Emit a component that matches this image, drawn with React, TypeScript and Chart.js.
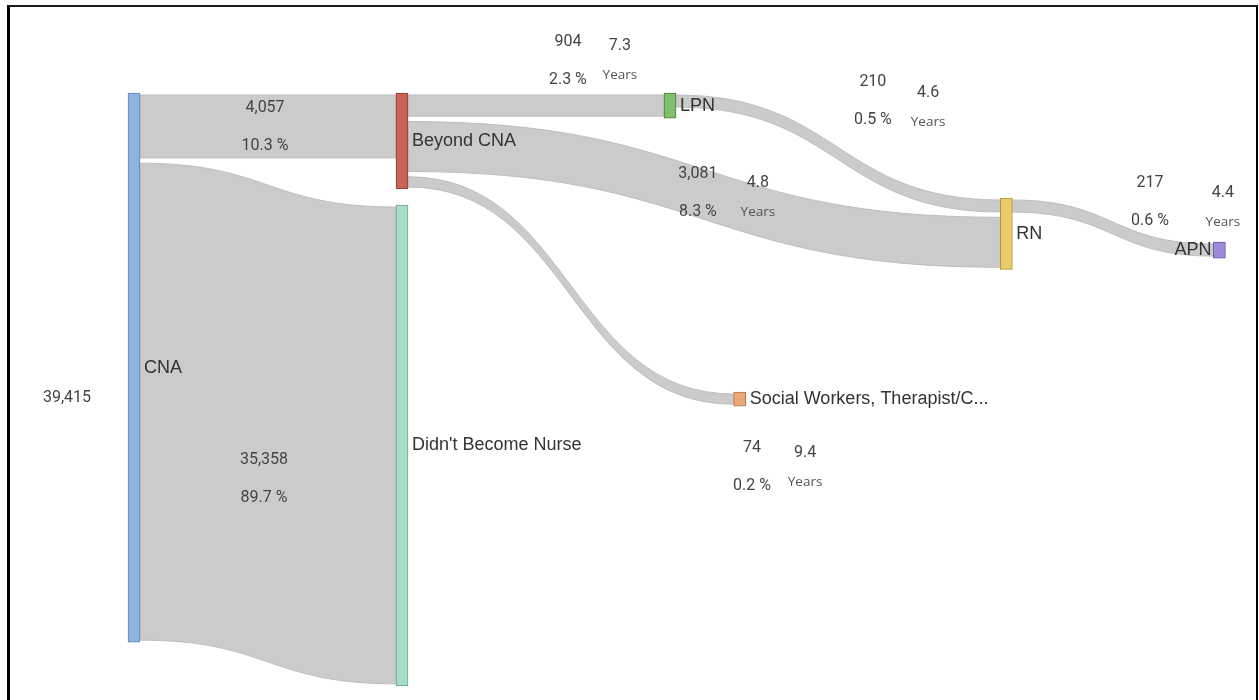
import React, { useEffect, useRef } from "react";
import { Chart, registerables } from "chart.js";

Chart.register(...registerables);

// ---------- data ----------
const nodeNames = [
  "CNA",
  "Beyond CNA",
  "Didn't Become Nurse",
  "LPN",
  "RN",
  "Social Workers, Therapist/C...",
  "APN",
];
const linkSources = [0, 0, 1, 1, 1, 3, 4];
const linkTargets = [1, 2, 3, 4, 5, 4, 6];
const linkValues = [4057, 35358, 904, 3081, 74, 210, 217];
const linkPercents = ["10.3 %", "89.7 %", "2.3 %", "8.3 %", "0.2 %", "0.5 %", "0.6 %"];
const linkYears: (number | null)[] = [null, null, 7.3, 4.8, 9.4, 4.6, 4.4];
const totalValue = 39415;

// ---------- layout (sankey placement, in scale units) ----------
const nodeColumns = [0, 1, 1, 2, 3.255, 2.26, 4.05];
const nodeTops = [0, 0, 8468, 0, 7939, 22607, 11266];
const MIN_LINK = 700; // minimum link thickness (units)
const GAP = 400; // gap between links at a node (units)
const PAD = 150; // node padding (units)
const valueLabelX = [0.489, 0.485, 1.619, 2.104, 2.306, 2.757, 3.791];
const valueLabelY = [1134, 27749, -3856, 6124, 26842, -832, 6805];
const yearsLabelX = [0, 0, 1.813, 2.328, 2.504, 2.963, 4.063];
const yearsLabelY = [0, 0, -3554, 6805, 27220, 0, 7561];
const totalLabelPos = [-0.25, 23061];

// ---------- styles ----------
const nodeFill = ["#8db4e1", "#c9645b", "#a9dcc6", "#80bf6b", "#e9cb6c", "#eca978", "#9d89d9"];
const nodeStroke = ["#5a86b6", "#8c3b34", "#6aa68b", "#4a7d3d", "#b19434", "#b57849", "#6853a8"];
const LINK_FILL = "#cbcbcb";
const LINK_EDGE = "#bdbdbd";

function computeLayout() {
  const sizes = linkValues.map((v) => v + MIN_LINK);
  const outOff = nodeTops.map((t) => t + PAD);
  const srcY0: number[] = [];
  const srcY1: number[] = [];
  linkSources.forEach((s, i) => {
    srcY0[i] = outOff[s];
    srcY1[i] = outOff[s] + sizes[i];
    outOff[s] += sizes[i] + GAP;
  });
  const order = linkValues.map((_, i) => i).sort((a, b) => srcY0[a] - srcY0[b]);
  const inOff = nodeTops.map((t) => t + PAD);
  const tgtY0: number[] = [];
  const tgtY1: number[] = [];
  order.forEach((i) => {
    const t = linkTargets[i];
    tgtY0[i] = inOff[t];
    tgtY1[i] = inOff[t] + sizes[i];
    inOff[t] += sizes[i] + GAP;
  });
  const heights = nodeNames.map((_, n) => {
    const outs = sizes.filter((_, i) => linkSources[i] === n);
    const ins = sizes.filter((_, i) => linkTargets[i] === n);
    const sumO = outs.reduce((a, b) => a + b, 0) + Math.max(0, outs.length - 1) * GAP;
    const sumI = ins.reduce((a, b) => a + b, 0) + Math.max(0, ins.length - 1) * GAP;
    return Math.max(sumO, sumI) + 2 * PAD;
  });
  return { srcY0, srcY1, tgtY0, tgtY1, heights };
}

const layout = computeLayout();

const sankeyPlugin = {
  id: "sankeyLinks",
  beforeDatasetsDraw(chart: any) {
    const { ctx, scales } = chart;
    const y = scales.y;
    const meta = chart.getDatasetMeta(0);
    ctx.save();
    ctx.fillStyle = LINK_FILL;
    ctx.strokeStyle = LINK_EDGE;
    ctx.lineWidth = 1;
    linkValues.forEach((_, i) => {
      const s = meta.data[linkSources[i]];
      const t = meta.data[linkTargets[i]];
      const x0 = s.x + s.width / 2;
      const x1 = t.x - t.width / 2;
      const xm = (x0 + x1) / 2;
      const sy0 = y.getPixelForValue(layout.srcY0[i]);
      const sy1 = y.getPixelForValue(layout.srcY1[i]);
      const ty0 = y.getPixelForValue(layout.tgtY0[i]);
      const ty1 = y.getPixelForValue(layout.tgtY1[i]);
      ctx.beginPath();
      ctx.moveTo(x0, sy0);
      ctx.bezierCurveTo(xm, sy0, xm, ty0, x1, ty0);
      ctx.lineTo(x1, ty1);
      ctx.bezierCurveTo(xm, ty1, xm, sy1, x0, sy1);
      ctx.closePath();
      ctx.fill();
      ctx.stroke();
    });
    ctx.restore();
  },
  afterDatasetsDraw(chart: any) {
    const { ctx, scales } = chart;
    const { x, y } = scales;
    const meta = chart.getDatasetMeta(0);
    const lastCol = Math.max(...nodeColumns);
    ctx.save();
    ctx.textBaseline = "middle";
    // node labels
    ctx.font = '18px "Liberation Sans", Arial, sans-serif';
    ctx.fillStyle = "#333333";
    nodeNames.forEach((name, i) => {
      const el = meta.data[i];
      const cy = (el.y + el.base) / 2;
      if (nodeColumns[i] === lastCol) {
        ctx.textAlign = "right";
        ctx.fillText(name, el.x - el.width / 2 - 2, cy);
      } else {
        ctx.textAlign = "left";
        ctx.fillText(name, el.x + el.width / 2 + 4, cy);
      }
    });
    // total label
    ctx.textAlign = "center";
    ctx.font = '16px Roboto, "Noto Sans", sans-serif';
    ctx.fillStyle = "#444444";
    ctx.fillText(
      totalValue.toLocaleString("en-US"),
      x.getPixelForValue(totalLabelPos[0]),
      y.getPixelForValue(totalLabelPos[1])
    );
    // link labels
    linkValues.forEach((v, i) => {
      const vx = x.getPixelForValue(valueLabelX[i]);
      const vy = y.getPixelForValue(valueLabelY[i]);
      ctx.font = '16px Roboto, "Noto Sans", sans-serif';
      ctx.fillStyle = "#444444";
      ctx.fillText(v.toLocaleString("en-US"), vx, vy);
      ctx.fillText(linkPercents[i], vx, vy + 38);
      const yr = linkYears[i];
      if (yr !== null) {
        const yx = x.getPixelForValue(yearsLabelX[i]);
        const yy = y.getPixelForValue(yearsLabelY[i]);
        ctx.fillText(yr.toFixed(1), yx, yy);
        ctx.font = '13.5px "Open Sans", "Noto Sans", sans-serif';
        ctx.fillStyle = "#555555";
        ctx.fillText("Years", yx, yy + 29);
      }
    });
    ctx.restore();
  },
};

export default function App() {
  const ref = useRef<HTMLCanvasElement>(null);
  useEffect(() => {
    const chart = new Chart(ref.current as HTMLCanvasElement, {
      type: "bar",
      data: {
        datasets: [
          {
            data: nodeNames.map((_, i) => ({
              x: nodeColumns[i],
              y: [nodeTops[i], nodeTops[i] + layout.heights[i]],
            })) as any,
            backgroundColor: nodeFill,
            borderColor: nodeStroke,
            borderWidth: 1,
            borderSkipped: false,
            barThickness: 12,
            grouped: false,
          } as any,
        ],
      },
      options: {
        animation: false,
        responsive: false,
        devicePixelRatio: 1,
        layout: { padding: 0 },
        plugins: {
          legend: { display: false },
          tooltip: { enabled: false },
        },
        scales: {
          x: { type: "linear", display: false, min: -0.5, max: 4.1978, offset: false },
          y: { type: "linear", display: false, min: -7032, max: 45894, reverse: true },
        },
      },
      plugins: [sankeyPlugin],
    });
    return () => chart.destroy();
  }, []);
  return (
    <div
      style={{
        position: "fixed",
        left: 0,
        top: 0,
        width: 1259,
        height: 700,
        background: "#ffffff",
        overflow: "hidden",
      }}
    >
      <canvas ref={ref} width={1259} height={700} style={{ display: "block", width: 1259, height: 700 }} />
      <div
        style={{
          position: "absolute",
          left: 7,
          top: 5,
          width: 1251,
          height: 720,
          borderTop: "2px solid #1a1a1a",
          borderLeft: "3px solid #000",
          borderRight: "2px solid #000",
          boxSizing: "border-box",
          pointerEvents: "none",
        }}
      />
    </div>
  );
}
